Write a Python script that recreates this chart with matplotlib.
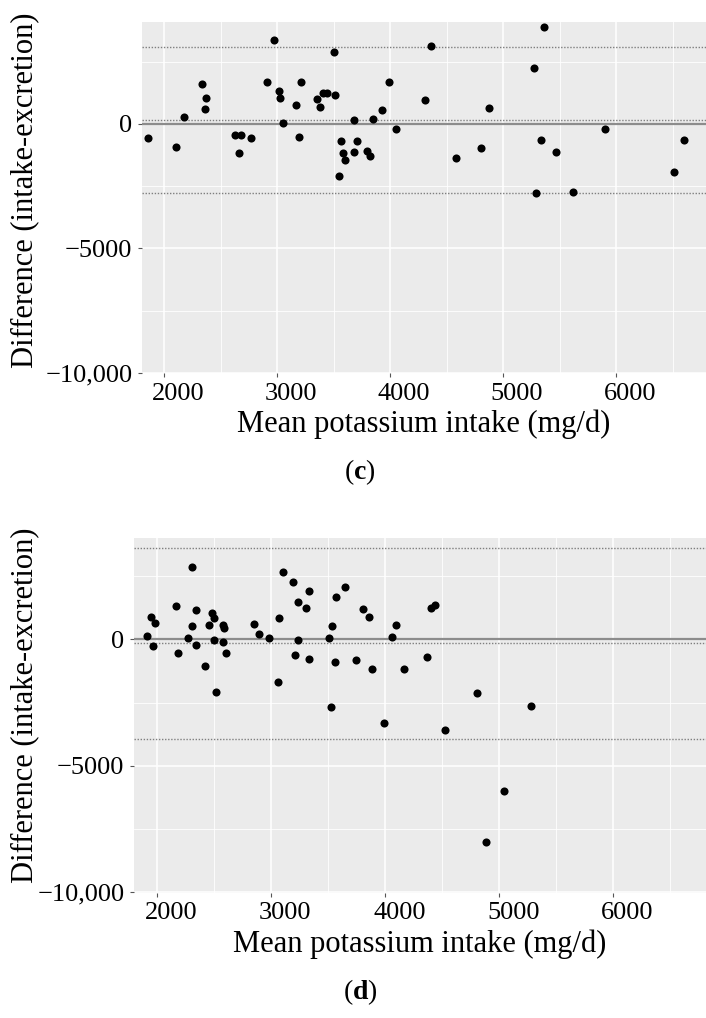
import numpy as np
import matplotlib
matplotlib.use("Agg")
from matplotlib import pyplot as plt
from matplotlib.ticker import MultipleLocator
from matplotlib.transforms import ScaledTranslation

plt.rcParams['font.family'] = ['Liberation Serif', 'DejaVu Serif']
plt.rcParams['mathtext.fontset'] = 'custom'
plt.rcParams['mathtext.rm'] = 'Liberation Serif'
plt.rcParams['mathtext.bf'] = 'Liberation Serif:bold'

# panel (c): mean potassium intake vs difference
c_mean = [1856, 2106, 2174, 2336, 2369, 2360, 2631, 2681, 2667, 2773,
          2912, 2976, 3021, 3027, 3056, 3165, 3198, 3212, 3357, 3383,
          3404, 3440, 3502, 3513, 3549, 3569, 3584, 3602, 3681, 3684,
          3711, 3799, 3823, 3852, 3932, 3994, 4053, 4360, 4310, 4581,
          4803, 4879, 5272, 5360, 5333, 5469, 5292, 5617, 5906, 6599,
          6511]
c_diff = [-551, -925, 294, 1596, 1058, 603, -442, -442, -1153, -551,
          1677, 3378, 1314, 1058, 27, 751, -510, 1689, 1005, 684,
          1234, 1234, 2883, 1180, -2091, -684, -1166, -1461, 147, -1112,
          -684, -1072, -1300, 214, 563, 1702, -187, 3136, 965, -1354,
          -951, 643, 2252, 3887, -643, -1139, -2788, -2748, -201, -630,
          -1944]
c_bias = 173
c_upper = 3108
c_lower = -2762

# panel (d)
d_mean = [1910, 1945, 1982, 1962, 2161, 2179, 2267, 2304, 2307, 2337,
          2339, 2416, 2451, 2477, 2500, 2495, 2518, 2574, 2585, 2574,
          2600, 2846, 2895, 2982, 3065, 3056, 3100, 3188, 3205, 3237,
          3237, 3307, 3328, 3328, 3506, 3524, 3535, 3559, 3568, 3649,
          3743, 3807, 3860, 3883, 4059, 4091, 4164, 4368, 4398, 4439,
          4807, 5281, 3987, 4528, 5044, 4886]
d_diff = [130, 881, 656, -265, 1304, -530, 51, 2846, 526, 1146,
          -237, -1067, 553, 1040, 830, -16, -2095, 553, 447, -107,
          -530, 605, 209, 63, 842, -1700, 2672, 2277, -621, 1474,
          -28, 1249, 1909, -767, 63, -2664, 538, -909, 1672, 2067,
          -830, 1198, 870, -1174, 103, 565, -1174, -700, 1237, 1356,
          -2123, -2648, -3320, -3573, -5984, -8012]
d_bias = -160
d_upper = 3621
d_lower = -3941

x_ticks = [2000, 3000, 4000, 5000, 6000]
y_ticks = [-10000, -5000, 0]
y_labels = ["\u221210,000", "\u22125000", "0"]

W, H = 706, 1018
fig = plt.figure(figsize=(W / 100, H / 100), dpi=100)


def panel(rect, xs, ys, bias, upper, lower, xlim, ylim):
    ax = fig.add_axes(rect)
    ax.set_facecolor("#EBEBEB")
    for s in ax.spines.values():
        s.set_visible(False)
    ax.set_xlim(*xlim)
    ax.set_ylim(*ylim)
    ax.set_xticks(x_ticks)
    ax.set_yticks(y_ticks)
    ax.set_yticklabels(y_labels)
    ax.xaxis.set_minor_locator(MultipleLocator(500))
    ax.yaxis.set_minor_locator(MultipleLocator(2500))
    ax.grid(which="major", color="white", lw=1.1)
    ax.grid(which="minor", color="white", lw=0.6)
    ax.set_axisbelow(True)
    ax.tick_params(which="major", length=3, width=0.8, color="#555555",
                   labelsize=19, pad=4, labelcolor="black")
    ax.tick_params(which="minor", length=0)
    # tick labels sit a little right of their ticks in the original
    shift = ScaledTranslation(14 / 100, 0, fig.dpi_scale_trans)
    for t in ax.get_xticklabels():
        t.set_transform(t.get_transform() + shift)
    ax.axhline(0, color="#8c8c8c", lw=1.6, zorder=2)
    for v in (bias, upper, lower):
        ax.axhline(v, color="#7f7f7f", lw=1.0, ls=(0, (1, 1.2)), zorder=2)
    ax.scatter(xs, ys, s=34, color="black", zorder=3, linewidths=0)
    return ax


panel([142 / W, 1 - 373 / H, 1 - 142 / W, (373 - 21.7) / H],
      c_mean, c_diff, c_bias, c_upper, c_lower, (1805, 6796), (-10012, 4113))
panel([134 / W, 1 - 892.7 / H, 1 - 134 / W, (892.7 - 538.3) / H],
      d_mean, d_diff, d_bias, d_upper, d_lower, (1796, 6813), (-10016, 3992))

lab = "Mean potassium intake (mg/d)"
ylab = "Difference (intake-excretion)"
fig.text(424 / W, 1 - 424 / H, lab, ha="center", va="center", fontsize=22)
fig.text(420 / W, 1 - 944 / H, lab, ha="center", va="center", fontsize=22)
fig.text(25 / W, 1 - 190 / H, ylab, ha="center", va="center", rotation=90, fontsize=22)
fig.text(25 / W, 1 - 705 / H, ylab, ha="center", va="center", rotation=90, fontsize=22)
fig.text(360 / W, 1 - 472 / H, r"($\mathbf{c}$)", ha="center", va="center", fontsize=20)
fig.text(360 / W, 1 - 992 / H, r"($\mathbf{d}$)", ha="center", va="center", fontsize=20)

fig.savefig("out.png", dpi=100)
